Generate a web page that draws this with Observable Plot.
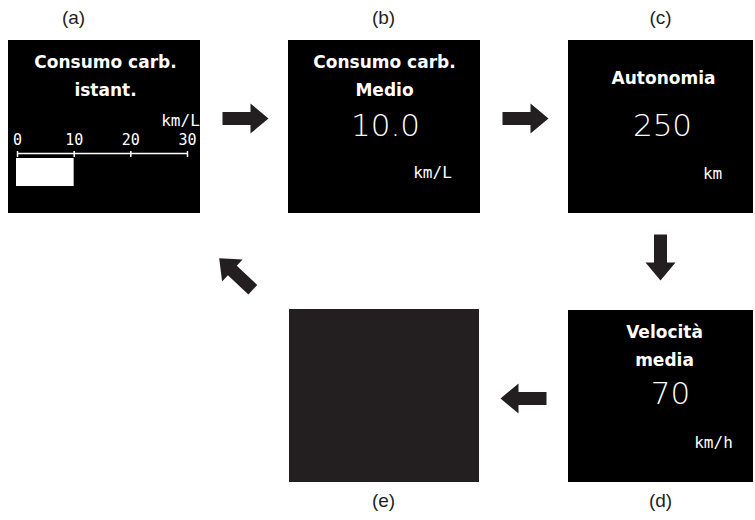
<!DOCTYPE html>
<html><head><meta charset="utf-8">
<script src="https://cdn.jsdelivr.net/npm/d3@7"></script>
<script src="https://cdn.jsdelivr.net/npm/@observablehq/plot@0.6"></script>
<style>body{margin:0;background:#fff}</style>
</head><body><div id="chart"></div>
<script>
// ---- content ----
const panelIds = ["a", "b", "c", "d", "e"];
const panelTitles = [["Consumo carb.", "istant."], ["Consumo carb.", "Medio"], ["Autonomia"], ["Velocità", "media"], []];
const panelValues = [null, "10.0", "250", "70", null];
const panelUnits = ["km/L", "km/L", "km", "km/h", null];
const gaugeTicks = [0, 10, 20, 30];
const gaugeValue = 10;
const flow = [["a", "b"], ["b", "c"], ["c", "d"], ["d", "e"], ["e", "a"]];

// ---- layout ----
const layout = {
  a: {x1: 8, x2: 200, y1: 40, y2: 213, fill: "#000", cx: 105, ty: [62, 90], lab: [73, 17], up: [180, 120]},
  b: {x1: 288, x2: 480, y1: 40, y2: 213, fill: "#000", cx: 384, ty: [62, 90], val: [385, 126], lab: [383, 17], up: [432, 172]},
  c: {x1: 568, x2: 753, y1: 40, y2: 213, fill: "#000", cx: 663, ty: [78], val: [662, 126], lab: [660, 17], up: [712, 173]},
  d: {x1: 568, x2: 753, y1: 310, y2: 482, fill: "#000", cx: 664, ty: [332, 360], val: [670, 394], lab: [660, 500], up: [713, 442]},
  e: {x1: 289, x2: 479, y1: 309, y2: 482, fill: "#231f20", cx: 384, ty: [], lab: [383, 500]}
};
const arrowLayout = {ab: [245, 118, 0], bc: [525, 118, 0], cd: [660, 257, 90], de: [523, 398, 180], ea: [235.5, 273.5, 223]};

const panels = panelIds.map((id, i) => ({id, title: panelTitles[i], value: panelValues[i], unit: panelUnits[i], ...layout[id]}));
const titleLines = panels.flatMap(p => p.title.map((t, j) => ({text: t, x: p.cx, y: p.ty[j]})));
const values = panels.filter(p => p.value).map(p => ({text: p.value, x: p.val[0], y: p.val[1]}));
const units = panels.filter(p => p.unit).map(p => ({text: p.unit, x: p.up[0], y: p.up[1], id: p.id}));
const arrows = flow.map(([f, t]) => { const [x, y, a] = arrowLayout[f + t]; return {x, y, angle: a}; });

const gx = d3.scaleLinear().domain([d3.min(gaugeTicks), d3.max(gaugeTicks)]).range([17, 187]);

const arrowShape = {
  draw(ctx) {
    ctx.moveTo(-23, -6.5); ctx.lineTo(5, -6.5); ctx.lineTo(5, -15); ctx.lineTo(23, 0);
    ctx.lineTo(5, 15); ctx.lineTo(5, 6.5); ctx.lineTo(-23, 6.5); ctx.closePath();
  }
};

const chart = Plot.plot({
  width: 755, height: 520, margin: 0,
  x: {domain: [0, 755], range: [0, 755], axis: null},
  y: {domain: [0, 520], range: [0, 520], axis: null},
  marks: [
    Plot.rect(panels, {x1: "x1", x2: "x2", y1: "y1", y2: "y2", fill: "fill"}),
    Plot.text(panels, {x: d => d.lab[0], y: d => d.lab[1], text: d => `(${d.id})`, fill: "#231f20", fontSize: 19, fontFamily: "Liberation Sans Narrow, Liberation Sans, Arial, sans-serif"}),
    Plot.text(titleLines, {x: "x", y: "y", text: "text", fill: "#fff", fontSize: 17, fontWeight: "bold", fontFamily: "DejaVu Sans, sans-serif"}),
    Plot.text(values, {x: "x", y: "y", text: "text", fill: "#fff", fontSize: 31, fontWeight: 200, fontFamily: "DejaVu Sans, sans-serif"}),
    Plot.text(units, {x: "x", y: "y", text: "text", fill: "#fff", fontSize: 16, fontFamily: "DejaVu Sans Mono, monospace"}),
    // gauge in panel (a)
    Plot.ruleY([153], {x1: gx(d3.min(gaugeTicks)), x2: gx(d3.max(gaugeTicks)), stroke: "#fff", strokeWidth: 1.5}),
    Plot.ruleX(gaugeTicks, {x: d => gx(d), y1: 151, y2: 157, stroke: "#fff", strokeWidth: 1.5}),
    Plot.text(gaugeTicks, {x: d => gx(d), y: 140, text: d => String(d), fill: "#fff", fontSize: 15, fontFamily: "DejaVu Sans Mono, monospace"}),
    Plot.rect([gaugeValue], {x1: gx(0) - 1, x2: d => gx(d), y1: 158, y2: 186, fill: "#fff"}),
    // arrows
    Plot.dot(arrows, {x: "x", y: "y", rotate: "angle", symbol: arrowShape, fill: "#231f20", stroke: "none", r: 10})
  ]
});
document.getElementById("chart").appendChild(chart);
</script>
</body></html>
